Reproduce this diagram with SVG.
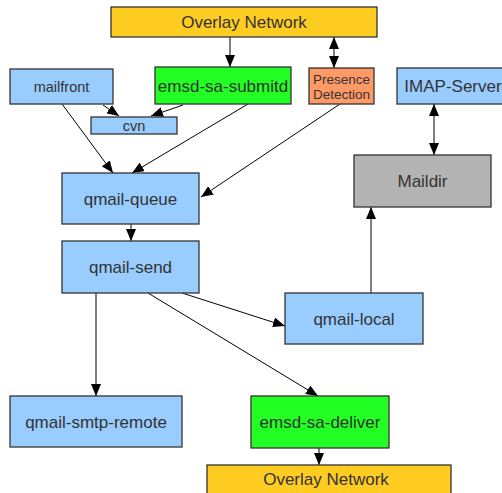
<svg xmlns="http://www.w3.org/2000/svg" width="502" height="493" viewBox="0 0 502 493">
<style>
.n{stroke:#333;stroke-width:1.3}
.blue{fill:#99ccff}
.green{fill:#22ff22}
.yellow{fill:#ffcc22}
.orange{fill:#ff9966}
.gray{fill:#b3b3b3}
text{font-family:"Liberation Sans",Arial,sans-serif;fill:#333;text-anchor:middle;dominant-baseline:central}
.l{font-size:17px}
.m{font-size:14.5px}
.s{font-size:13.5px}
.e{stroke:#000;stroke-width:1;fill:none;marker-end:url(#a)}
</style>
<defs>
<marker id="a" viewBox="0 0 12 10" refX="12" refY="5" markerWidth="12" markerHeight="10" markerUnits="userSpaceOnUse" orient="auto-start-reverse">
<path d="M0,0 L12,5 L0,10 z" fill="#000"/>
</marker>
</defs>
<g id="connectors">
<line class="e" x1="230" y1="37" x2="230" y2="67"/>
<line class="e" x1="334" y1="37" x2="334" y2="68" style="marker-start:url(#a)"/>
<line class="e" x1="434" y1="104" x2="434" y2="155" style="marker-start:url(#a)"/>
<line class="e" x1="103" y1="105" x2="119" y2="116"/>
<line class="e" x1="183" y1="105" x2="151" y2="116"/>
<line class="e" x1="62" y1="104" x2="113" y2="173"/>
<line class="e" x1="248" y1="104" x2="132" y2="173"/>
<line class="e" x1="340" y1="104" x2="201" y2="197"/>
<line class="e" x1="131" y1="224" x2="131" y2="241"/>
<line class="e" x1="96" y1="293" x2="96" y2="396"/>
<line class="e" x1="182" y1="293" x2="285" y2="326"/>
<line class="e" x1="148" y1="293" x2="318" y2="396"/>
<line class="e" x1="371" y1="293" x2="371" y2="207"/>
<line class="e" x1="319" y1="448" x2="319" y2="465"/>
</g>
<g id="overlay-top"><rect class="n yellow" x="111" y="7" width="266" height="30"/><text class="l" x="244" y="22">Overlay Network</text></g>
<g id="mailfront"><rect class="n blue" x="10" y="69" width="103" height="35"/><text class="m" x="61.5" y="86.5">mailfront</text></g>
<g id="emsd-sa-submitd"><rect class="n green" x="155" y="67" width="136" height="37"/><text class="l" x="223" y="86">emsd-sa-submitd</text></g>
<g id="cvn"><rect class="n blue" x="91" y="117" width="86" height="17"/><text class="m" x="134" y="126">cvn</text></g>
<g id="presence"><rect class="n orange" x="309" y="68" width="65" height="36"/><text class="s" x="341.5" y="79">Presence</text><text class="s" x="341.5" y="94">Detection</text></g>
<g id="imap-server"><rect class="n blue" x="397" y="68" width="110" height="36"/><text class="l" x="453" y="86">IMAP-Server</text></g>
<g id="qmail-queue"><rect class="n blue" x="62" y="173" width="137" height="51"/><text class="l" x="130.5" y="199">qmail-queue</text></g>
<g id="maildir"><rect class="n gray" x="354" y="155" width="137" height="52"/><text class="l" x="422.5" y="181">Maildir</text></g>
<g id="qmail-send"><rect class="n blue" x="62" y="241" width="137" height="52"/><text class="l" x="130.5" y="267">qmail-send</text></g>
<g id="qmail-local"><rect class="n blue" x="285" y="293" width="138" height="51"/><text class="l" x="354" y="319">qmail-local</text></g>
<g id="qmail-smtp-remote"><rect class="n blue" x="10" y="396" width="172" height="51"/><text class="l" x="96" y="422">qmail-smtp-remote</text></g>
<g id="emsd-sa-deliver"><rect class="n green" x="251" y="396" width="138" height="52"/><text class="l" x="320" y="422">emsd-sa-deliver</text></g>
<g id="overlay-bottom"><rect class="n yellow" x="207" y="465" width="244" height="35"/><text class="l" x="326" y="479">Overlay Network</text></g>
</svg>
